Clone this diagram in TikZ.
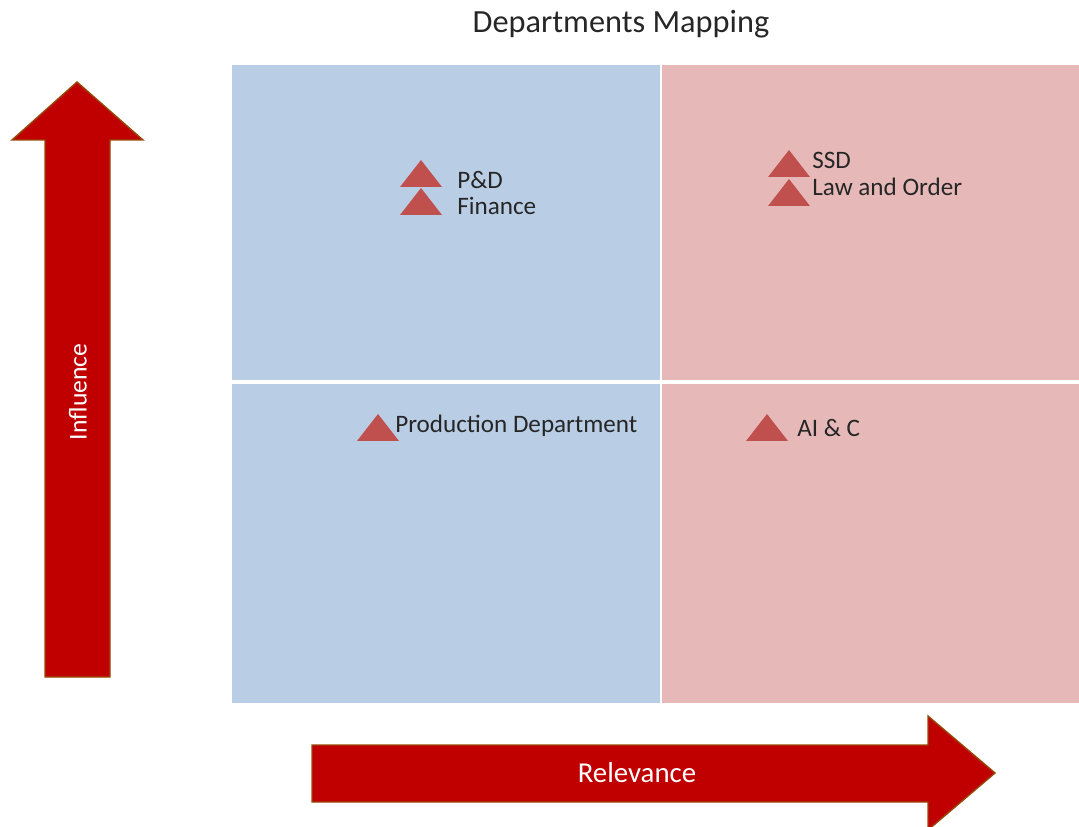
\documentclass[tikz,border=0pt]{standalone}
\usepackage{fontspec}
\setmainfont{Carlito}
\definecolor{arrowred}{HTML}{C00000}
\definecolor{arrowedge}{HTML}{984806}
\definecolor{lowblue}{HTML}{B9CDE5}
\definecolor{highpink}{HTML}{E6B9B8}
\definecolor{markred}{HTML}{C0504D}
\definecolor{labelgray}{HTML}{262626}
\begin{document}
\begin{tikzpicture}[x=0.02cm,y=-0.02cm,
		bigarrow/.style={fill=arrowred,draw=arrowedge,line width=0.8pt,line join=miter},
		marker/.style={fill=markred},
		dept/.style={anchor=west,text=labelgray,inner sep=0pt,font=\fontsize{14.3}{16}\selectfont},
		axislabel/.style={text=white,inner sep=0pt},
		tri/.pic={\fill[marker] (-21,0) -- (21,0) -- (0,-27) -- cycle;}]
			
			% Page frame
			\useasboundingbox (0,0) rectangle (1079,827);
			\node[text=labelgray,font=\fontsize{18.4}{20}\selectfont] (title) at (621,24) {Departments Mapping};
			
			% Quadrants
			\fill[lowblue] (232,65) rectangle (660,703);
			\fill[highpink] (662,65) rectangle (1079,703);
			\draw[white,line width=2pt] (232,382) -- (1079,382);
			
			% Axes arrows
			\filldraw[bigarrow] (45,677) -- (45,140) -- (12,140) -- (77,82) -- (143,140) -- (110,140) -- (110,677) -- cycle;
			\node[axislabel,rotate=90,font=\fontsize{14.6}{16}\selectfont] (influence) at (78,392) {Influence};
			\filldraw[bigarrow] (312,745) -- (928,745) -- (928,716) -- (995,773) -- (928,830) -- (928,802) -- (312,802) -- cycle;
			\node[axislabel,font=\fontsize{16.4}{18}\selectfont] (relevance) at (637,773) {Relevance};
			
			% Departments
			\pic at (421,187) {tri};
			\pic at (421,215) {tri};
			\node[dept] (pd) at (457,180) {P\&D};
			\node[dept] (finance) at (457,206) {Finance};
			
			\pic at (789,177) {tri};
			\pic at (789,206) {tri};
			\node[dept] (ssd) at (812,160) {SSD};
			\node[dept] (law) at (812,187) {Law and Order};
			
			\pic at (378,441) {tri};
			\node[dept] (production) at (395,426) {Production Department};
			
			\pic at (767,441) {tri};
			\node[dept] (aic) at (797,428) {AI \& C};
		\end{tikzpicture}
\end{document}
